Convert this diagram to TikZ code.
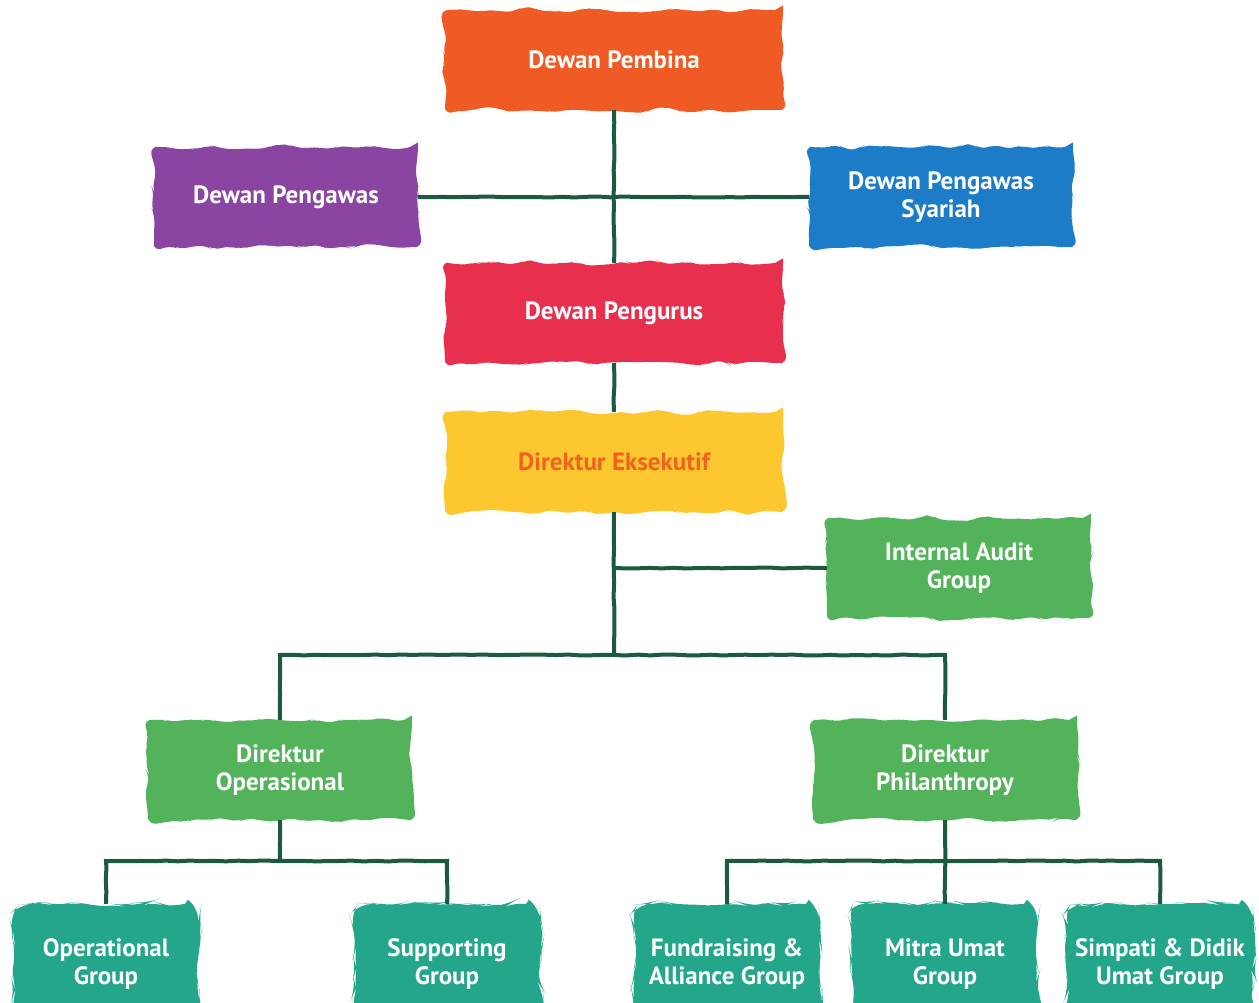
\documentclass[tikz,border=0pt]{standalone}
\usepackage{fontspec}
\setmainfont{PT Sans}
\usepackage{xcolor}
\usetikzlibrary{decorations.pathmorphing}

\definecolor{pembina}{HTML}{F05A24}
\definecolor{pengawas}{HTML}{8A45A3}
\definecolor{syariah}{HTML}{1D7CC8}
\definecolor{pengurus}{HTML}{E8304E}
\definecolor{eksekutif}{HTML}{FDC82F}
\definecolor{eksekutiftext}{HTML}{F2621F}
\definecolor{direktur}{HTML}{52B35A}
\definecolor{group}{HTML}{23A68A}
\definecolor{linkgreen}{HTML}{1B5A3C}

\begin{document}
\pgfmathsetseed{7}
\begin{tikzpicture}[x=1pt, y=-1pt,
    brush/.style={fill=#1, draw=none, text=white, align=center,
      font=\fontsize{25}{28}\selectfont\bfseries,
      decoration={random steps, segment length=10pt, amplitude=3pt},
      decorate, rounded corners=8pt, inner sep=0pt},
    wide/.style={minimum width=338pt, minimum height=100pt},
    mid/.style={minimum width=264pt, minimum height=100pt},
    small/.style={minimum width=186pt, minimum height=120pt, rounded corners=14pt},
    link/.style={draw=linkgreen, line width=4pt,
      decoration={random steps, segment length=12pt, amplitude=0.5pt}, decorate}]
  % page
  \fill[white] (0,0) rectangle (1259,1003);
  \useasboundingbox (0,0) rectangle (1259,1003);

  % Top board
  \node[brush=pembina, wide] (pembina) at (614,60) {Dewan Pembina};
  \node[brush=pengawas, mid] (pengawas) at (286,197) {Dewan Pengawas};
  \node[brush=syariah, mid] (syariah) at (941,197) {Dewan Pengawas\\Syariah};
  \node[brush=pengurus, wide] (pengurus) at (614,313) {Dewan Pengurus};
  \node[brush=eksekutif, wide, text=eksekutiftext] (eksekutif) at (614,462) {Direktur Eksekutif};

  % Directors
  \node[brush=direktur, mid] (audit) at (959,568) {Internal Audit\\Group};
  \node[brush=direktur, mid] (operasional) at (280,770) {Direktur\\Operasional};
  \node[brush=direktur, mid] (philanthropy) at (945,770) {Direktur\\Philanthropy};

  % Groups
  \node[brush=group, small] (opgroup) at (106,964) {Operational\\Group};
  \node[brush=group, small] (supgroup) at (447,964) {Supporting\\Group};
  \node[brush=group, small] (fundgroup) at (727,964) {Fundraising \&\\Alliance Group};
  \node[brush=group, small] (mitragroup) at (945,964) {Mitra Umat\\Group};
  \node[brush=group, small] (simpatigroup) at (1160,964) {Simpati \& Didik\\Umat Group};

  % split points
  \coordinate (dirsplit) at (614,655);
  \coordinate (opsplit) at (280,861);
  \coordinate (phsplit) at (945,861);

  % connectors
  \path[link] (pembina.south) -- (pengurus.north);
  \path[link] (pengawas.east) -- (syariah.west);
  \path[link] (pengurus.south) -- (eksekutif.north);
  \path[link] (eksekutif.south) -- (dirsplit);
  \path[link] (eksekutif.south |- audit.west) -- (audit.west);
  \path[link] (operasional.north) |- (dirsplit) -| (philanthropy.north);
  \path[link] (operasional.south) -- (opsplit);
  \path[link] (opgroup.north) |- (opsplit) -| (supgroup.north);
  \path[link] (philanthropy.south) -- (mitragroup.north);
  \path[link] (fundgroup.north) |- (phsplit) -| (simpatigroup.north);
\end{tikzpicture}
\end{document}
